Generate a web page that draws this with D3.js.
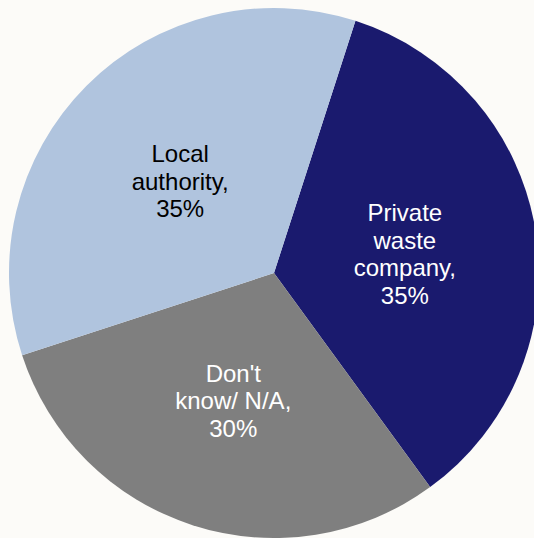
<!DOCTYPE html>
<html>
<head>
<meta charset="utf-8">
<script src="https://cdn.jsdelivr.net/npm/d3@7"></script>
<style>
  html, body { margin: 0; padding: 0; background: #fcfbf8; }
  svg { display: block; }
</style>
</head>
<body>
<svg id="chart" width="534" height="538"></svg>
<script>
// Who handles the waste: share of respondents
const categories = ["Private waste company", "Don't know/ N/A", "Local authority"];
const labelLines = [["Private", "waste", "company,"], ["Don't", "know/ N/A,"], ["Local", "authority,"]];
const values = [35, 30, 35];
const colors = ["#1a1a6e", "#7f7f7f", "#b0c4de"];
const textColors = ["#ffffff", "#ffffff", "#000000"];

const width = 534, height = 538;
const cx = 274, cy = 273, radius = 265;
const rotation = 17.9 * Math.PI / 180;

const svg = d3.select("#chart");
svg.append("rect").attr("width", width).attr("height", height).attr("fill", "#fcfbf8");

const data = categories.map((c, i) => ({ name: c, value: values[i], lines: labelLines[i], i }));

const pie = d3.pie().sort(null).value(d => d.value)
  .startAngle(rotation).endAngle(rotation + 2 * Math.PI);
const arc = d3.arc().innerRadius(0).outerRadius(radius);

const g = svg.append("g").attr("transform", `translate(${cx},${cy})`);
const arcs = pie(data);

g.selectAll("path").data(arcs).enter().append("path")
  .attr("d", arc)
  .attr("fill", d => colors[d.data.i]);

const lineHeight = 27.5;
const labels = g.selectAll("text.lbl").data(arcs).enter().append("text")
  .attr("class", "lbl")
  .attr("text-anchor", "middle")
  .attr("font-family", "'Liberation Sans', Arial, sans-serif")
  .attr("font-size", 24)
  .attr("fill", d => textColors[d.data.i])
  .attr("transform", d => { const [x, y] = arc.centroid(d); return `translate(${x},${y + 2})`; });

labels.each(function(d) {
  const lines = d.data.lines.concat([d.data.value + "%"]);
  const n = lines.length;
  d3.select(this).selectAll("tspan").data(lines).enter().append("tspan")
    .attr("x", 0)
    .attr("y", (t, k) => (k - (n - 1) / 2) * lineHeight)
    .attr("dy", "0.35em")
    .text(t => t);
});
</script>
</body>
</html>
